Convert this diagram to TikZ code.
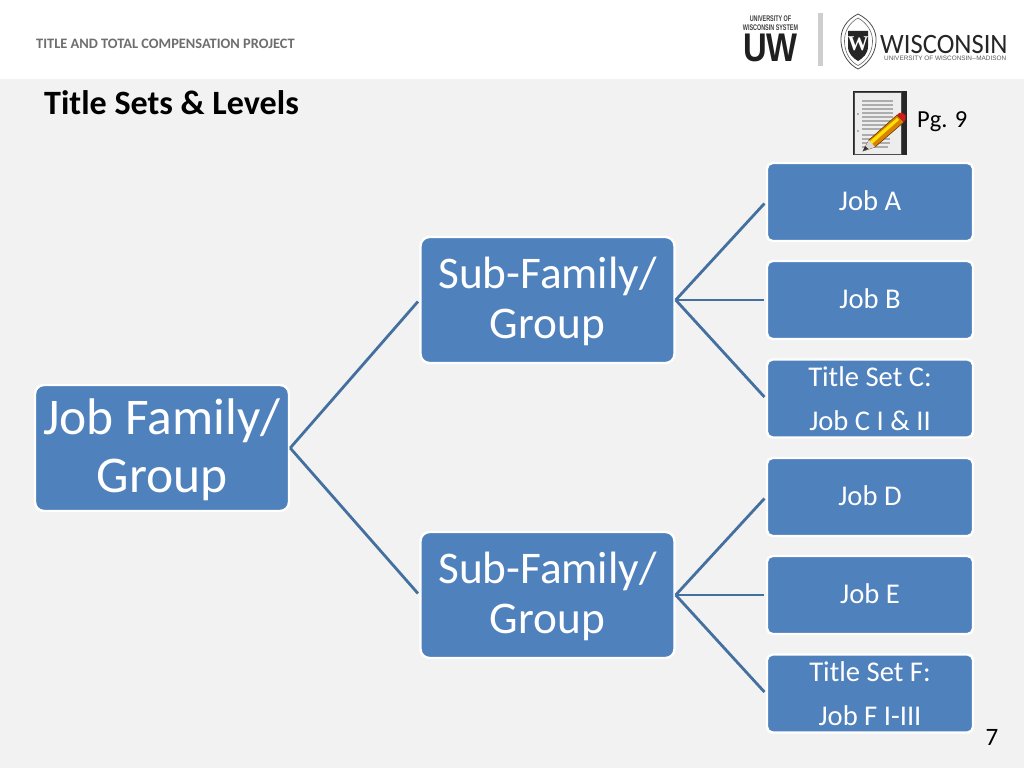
\documentclass[tikz,border=0pt]{standalone}
\usepackage{fontspec}
\setmainfont{Carlito}
\newfontfamily\logoserif{Liberation Serif}
\newfontfamily\logosans{Liberation Sans}
\definecolor{boxblue}{HTML}{4F81BD}
\definecolor{linkblue}{HTML}{44709F}
\definecolor{slidebg}{HTML}{F2F2F2}
\definecolor{headgray}{HTML}{6E6E6E}
\newcommand{\shiftdown}[2]{\raisebox{-#1pt}[\height][\depth]{#2}}
\tikzset{
  boxbase/.style={rectangle,rounded corners=9pt,fill=boxblue,draw=white,line width=2.4pt,text=white,align=center,inner sep=0pt},
  bigfam/.style={boxbase,minimum width=254pt,minimum height=126pt,font=\fontsize{51.5}{58}\selectfont},
  subfam/.style={boxbase,minimum width=254pt,minimum height=126pt,font=\fontsize{45.3}{50.5}\selectfont},
  jobbox/.style={boxbase,rounded corners=5.5pt,minimum width=206pt,minimum height=78pt,font=\fontsize{28.6}{43.5}\selectfont},
  link/.style={draw=linkblue,line width=2.8pt,shorten >=2pt},
  plainlabel/.style={inner sep=0pt,anchor=west}
}
\begin{document}
\begin{tikzpicture}[x=1pt,y=-1pt]
\useasboundingbox (0,0) rectangle (1024,768);
\fill[slidebg] (0,0) rectangle (1024,768);
\fill[white] (0,0) rectangle (1024,79);
% header
\node[plainlabel,text=headgray,font=\fontsize{14.4}{16}\bfseries\selectfont] (head) at (36,43.5) {TITLE AND TOTAL COMPENSATION PROJECT};
\node[plainlabel,text=black,font=\fontsize{34.1}{38}\bfseries\selectfont] (title) at (44,102.5) {Title Sets \& Levels};
% UW System logo
\node[inner sep=0pt,text=black!75,transform shape,xscale=0.66,font=\logosans\bfseries\fontsize{8.2}{9}\selectfont,align=center] (uwsys) at (770.5,23) {UNIVERSITY OF\\WISCONSIN SYSTEM};
\node[inner sep=0pt,text=black!88,transform shape,xscale=0.82,text height=28pt,text depth=0pt,font=\logosans\bfseries\fontsize{40}{40}\selectfont] (uw) at (770.5,47.5) {UW};
\fill[slidebg!85!black] (818,13) rectangle (823,66);
% crest
\draw[black!70,line width=0.8pt,fill=white] (858,14) .. controls (846,20) and (840,30) .. (841,42) .. controls (842,56) and (850,65) .. (858,69) .. controls (866,65) and (875,56) .. (876,42) .. controls (877,30) and (870,20) .. (858,14) -- cycle;
\draw[black!60,line width=0.6pt] (858,18) .. controls (849,23) and (844,32) .. (844.5,42) .. controls (845,54) and (851,62) .. (858,65.5) .. controls (865,62) and (872,54) .. (872.5,42) .. controls (873,32) and (867,23) .. (858,18) -- cycle;
\fill[black!85] (848,31) -- (868,31) -- (868,46) .. controls (868,54) and (863,58) .. (858,61) .. controls (853,58) and (848,54) .. (848,46) -- cycle;
\node[inner sep=0pt,text=white,font=\logoserif\bfseries\fontsize{21}{21}\selectfont] (crestw) at (858,44) {W};
\node[plainlabel,text=black!85,transform shape,xscale=0.95,text height=18pt,text depth=0pt,font=\fontsize{28}{30}\selectfont] (wisc) at (880,44) {WISCONSIN};
\node[plainlabel,text=black!65,text height=5pt,text depth=0pt,font=\logosans\fontsize{6.4}{7}\selectfont] (madison) at (884,57.5) {UNIVERSITY OF WISCONSIN--MADISON};
% notepad icon
\fill[black!85] (853,91) rectangle (907,155);
\fill[white!93!black,draw=black!70,line width=0.6pt] (854,92) rectangle (901,154);
\foreach \yy/\xe in {101/893,105/893,109/893,113/893,117/893,121/893,125/891,129/882,135/880,139/890,143/890,147/888}{
  \draw[black!32,line width=1.2pt] (862,\yy) -- (\xe,\yy);
}
\fill[black!55] (858,114) circle (0.9pt) (858,131) circle (0.9pt);
\fill[orange!80!yellow!85!black,draw=black!65!orange,line width=0.5pt] (863,151) -- (869,140) -- (897,115) -- (904,122) -- (875,147) -- cycle;
\fill[yellow!85!orange] (870,141) -- (897,118) -- (899,120) -- (872,144) -- cycle;
\fill[black!15!white] (863,151) -- (869,140) -- (875,147) -- cycle;
\fill[black!80] (863,151) -- (865,146) -- (868.5,149) -- cycle;
\fill[red!80!black!90] (897,115) .. controls (899,111) and (904,113) .. (905.5,115.5) .. controls (906.5,118) and (905.5,120) .. (904,122) -- cycle;
\node[plainlabel,text=black,font=\fontsize{24.5}{28}\selectfont] (pg) at (917,122) {Pg. 9};
\node[inner sep=0pt,text=black,font=\fontsize{25}{28}\selectfont] (num) at (992,737) {7};
% boxes
\node[bigfam] (fam) at (162,448) {\shiftdown{2}{Job Family/}\\\shiftdown{2}{Group}};
\node[subfam] (s1) at (547.5,300) {\shiftdown{1.5}{Sub-Family/}\\\shiftdown{1.5}{Group}};
\node[subfam] (s2) at (547.5,595) {\shiftdown{1.5}{Sub-Family/}\\\shiftdown{1.5}{Group}};
\node[jobbox] (ja) at (870,202) {\shiftdown{-1}{Job A}};
\node[jobbox] (jb) at (870,300) {\shiftdown{-1}{Job B}};
\node[jobbox] (jc) at (870,398.5) {Title Set C:\\Job C I \& II};
\node[jobbox] (jd) at (870,497) {\shiftdown{-1}{Job D}};
\node[jobbox] (je) at (870,595) {\shiftdown{-1}{Job E}};
\node[jobbox] (jf) at (870,693.5) {Title Set F:\\Job F I-III};
% connectors
\foreach \a/\b in {fam/s1,fam/s2,s1/ja,s1/jb,s1/jc,s2/jd,s2/je,s2/jf}{
  \draw[link] (\a.east) -- (\b.west);
}
\end{tikzpicture}
\end{document}
